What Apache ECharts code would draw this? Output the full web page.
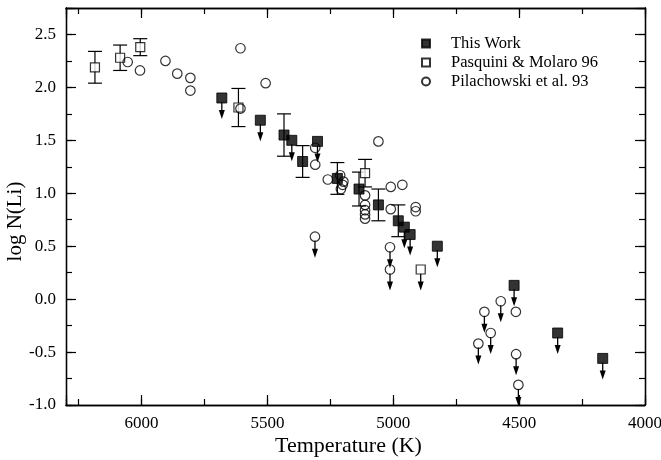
<!DOCTYPE html>
<html>
<head>
<meta charset="utf-8">
<script src="https://cdn.jsdelivr.net/npm/echarts@6/dist/echarts.min.js"></script>
<style>
  html, body { margin: 0; padding: 0; background: #fff; }
  #chart { width: 661px; height: 460px; }
</style>
</head>
<body>
<div id="chart"></div>
<script>
// [temperature (K), log N(Li)]
const thisWorkDetections = [[5434, 1.55], [5360, 1.30], [5222, 1.14], [5136, 1.04], [5059, 0.89], [4980, 0.74]];
const thisWorkErrors = [0.20, 0.15, 0.15, 0.16, 0.15, 0.15];
const thisWorkLimits = [[5681, 1.90], [5528, 1.69], [5403, 1.50], [5301, 1.49], [4956, 0.68], [4933, 0.61],
  [4825, 0.50], [4520, 0.13], [4347, -0.32], [4168, -0.56]];

const pasquiniDetections = [[6185, 2.19], [6085, 2.28], [6005, 2.38], [5615, 1.81], [5112, 1.19]];
const pasquiniErrors = [0.15, 0.12, 0.08, 0.18, 0.13];
const pasquiniLimits = [[4891, 0.28]];

const pilachowskiDetections = [[6055, 2.24], [6006, 2.16], [5905, 2.25], [5858, 2.13], [5806, 2.09], [5806, 1.97],
  [5607, 1.80], [5607, 2.37], [5507, 2.04], [5310, 1.43], [5310, 1.27], [5260, 1.13],
  [5211, 1.17], [5198, 1.11], [5201, 1.08], [5208, 1.04],
  [5112, 0.98], [5112, 0.89], [5112, 0.84], [5112, 0.80], [5112, 0.76],
  [5059, 1.49], [5010, 1.06], [4964, 1.08], [5010, 0.85], [4911, 0.87], [4911, 0.83], [4513, -0.12]];
const pilachowskiLimits = [[5311, 0.59], [5013, 0.49], [5013, 0.28], [4573, -0.02], [4638, -0.12],
  [4613, -0.32], [4662, -0.42], [4512, -0.52], [4503, -0.81]];

const seriesNames = ['This Work', 'Pasquini & Molaro 96', 'Pilachowski et al. 93'];

const FONT = "'Liberation Serif', 'Times New Roman', serif";

const errorBars = thisWorkDetections.map((d, i) => [d[0], d[1] - thisWorkErrors[i], d[1] + thisWorkErrors[i]])
  .concat(pasquiniDetections.map((d, i) => [d[0], d[1] - pasquiniErrors[i], d[1] + pasquiniErrors[i]]));
const upperLimits = thisWorkLimits.concat(pasquiniLimits, pilachowskiLimits);

const renderErrorBar = (params, api) => {
  const top = api.coord([api.value(0), api.value(2)]);
  const bottom = api.coord([api.value(0), api.value(1)]);
  const w = 7;
  const style = { stroke: '#000', lineWidth: 1.2 };
  return {
    type: 'group',
    children: [
      { type: 'line', shape: { x1: top[0], y1: top[1], x2: bottom[0], y2: bottom[1] }, style },
      { type: 'line', shape: { x1: top[0] - w, y1: top[1], x2: top[0] + w, y2: top[1] }, style },
      { type: 'line', shape: { x1: bottom[0] - w, y1: bottom[1], x2: bottom[0] + w, y2: bottom[1] }, style },
    ],
  };
};

const renderArrow = (params, api) => {
  const p = api.coord([api.value(0), api.value(1)]);
  const x = p[0], y = p[1];
  return {
    type: 'group',
    children: [
      { type: 'line', shape: { x1: x, y1: y + 4, x2: x, y2: y + 14 }, style: { stroke: '#000', lineWidth: 1.3 } },
      { type: 'polygon', shape: { points: [[x - 3, y + 12], [x + 3, y + 12], [x, y + 21]] }, style: { fill: '#000' } },
    ],
  };
};

const axisText = { color: '#000', fontFamily: FONT, fontSize: 17, fontWeight: 'normal' };
const frame = { show: true, onZero: false, lineStyle: { color: '#000', width: 1.3 } };

const makeXAxis = (position, interval, tickLen, withLabels) => ({
  type: 'value',
  position,
  min: 4000,
  max: 6300,
  inverse: true,
  interval,
  axisLine: frame,
  axisTick: { show: true, inside: true, length: tickLen, lineStyle: { color: '#000', width: 1.2 } },
  axisLabel: {
    show: withLabels,
    margin: 10,
    ...axisText,
    formatter: (v) => (v % 500 === 0 ? String(v) : ''),
  },
  splitLine: { show: false },
  name: withLabels ? 'Temperature (K)' : '',
  nameLocation: 'middle',
  nameMoveOverlap: false,
  nameGap: 30,
  nameTextStyle: { color: '#000', fontFamily: FONT, fontSize: 22, padding: [0, 14, 0, 0] },
});

const makeYAxis = (position, interval, tickLen, withLabels) => ({
  type: 'value',
  position,
  min: -1,
  max: 2.75,
  interval,
  axisLine: frame,
  axisTick: { show: true, inside: true, length: tickLen, lineStyle: { color: '#000', width: 1.2 } },
  axisLabel: {
    show: withLabels,
    margin: 10,
    ...axisText,
    formatter: (v) => (Math.abs(v * 2 - Math.round(v * 2)) < 1e-6 && v <= 2.5 ? v.toFixed(1) : ''),
  },
  splitLine: { show: false },
  name: withLabels ? 'log N(Li)' : '',
  nameLocation: 'middle',
  nameMoveOverlap: false,
  nameGap: 40,
  nameTextStyle: { color: '#000', fontFamily: FONT, fontSize: 21, padding: [0, 30, 0, 0] },
});

const chart = echarts.init(document.getElementById('chart'), null, { renderer: 'canvas' });

chart.setOption({
  backgroundColor: '#fff',
  animation: false,
  grid: { left: 66, right: 16, top: 8, bottom: 55, containLabel: false, outerBoundsMode: 'none' },
  legend: {
    data: seriesNames,
    orient: 'vertical',
    left: 416,
    top: 30,
    itemWidth: 8,
    itemHeight: 8,
    itemGap: 2,
    textStyle: { color: '#000', fontFamily: FONT, fontSize: 16.5, padding: [0, 0, 0, 16], lineHeight: 17 },
  },
  xAxis: [
    makeXAxis('bottom', 500, 10, true),
    makeXAxis('bottom', 250, 6, false),
    makeXAxis('top', 500, 10, false),
    makeXAxis('top', 250, 6, false),
  ],
  yAxis: [
    makeYAxis('left', 0.5, 10, true),
    makeYAxis('left', 0.25, 6, false),
    makeYAxis('right', 0.5, 10, false),
    makeYAxis('right', 0.25, 6, false),
  ],
  series: [
    {
      type: 'custom',
      name: 'errors',
      renderItem: renderErrorBar,
      data: errorBars,
      encode: { x: 0, y: [1, 2] },
      z: 1,
      silent: true,
    },
    {
      type: 'custom',
      name: 'limits',
      renderItem: renderArrow,
      data: upperLimits,
      encode: { x: 0, y: 1 },
      z: 2,
      silent: true,
    },
    {
      type: 'scatter',
      name: seriesNames[0],
      symbol: 'rect',
      symbolSize: 10,
      itemStyle: { color: '#000', borderColor: '#000', borderWidth: 1 },
      data: thisWorkDetections.concat(thisWorkLimits),
      z: 3,
    },
    {
      type: 'scatter',
      name: seriesNames[1],
      symbol: 'rect',
      symbolSize: 9,
      itemStyle: { color: '#fff', borderColor: '#000', borderWidth: 1.2 },
      data: pasquiniDetections.concat(pasquiniLimits),
      z: 3,
    },
    {
      type: 'scatter',
      name: seriesNames[2],
      symbol: 'circle',
      symbolSize: 9.5,
      itemStyle: { color: 'rgba(0,0,0,0)', borderColor: '#000', borderWidth: 1.2 },
      data: pilachowskiDetections.concat(pilachowskiLimits),
      z: 3,
    },
  ],
});
</script>
</body>
</html>
